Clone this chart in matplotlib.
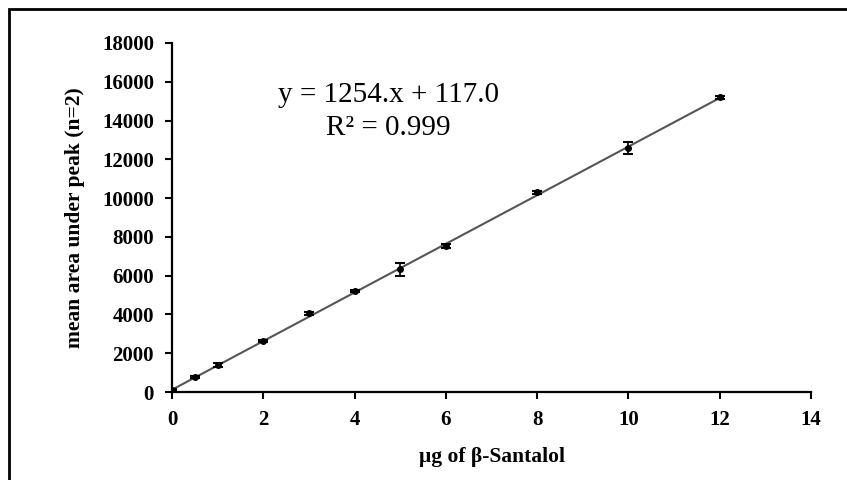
import matplotlib
matplotlib.use("Agg")
import matplotlib.pyplot as plt
from matplotlib.patches import Rectangle

# data
amount_ug = [0, 0.5, 1, 2, 3, 4, 5, 6, 8, 10, 12]
mean_area = [100, 775, 1380, 2630, 4050, 5210, 6330, 7520, 10290, 12570, 15190]
area_err = [60, 60, 110, 60, 90, 60, 330, 110, 90, 300, 80]
slope, intercept = 1254, 117.0
x_ticks = [0, 2, 4, 6, 8, 10, 12, 14]
y_ticks = [0, 2000, 4000, 6000, 8000, 10000, 12000, 14000, 16000, 18000]

SERIF = ["Liberation Serif", "DejaVu Serif"]
plt.rcParams.update({"font.family": SERIF})

fig = plt.figure(figsize=(8.47, 4.8), dpi=100)
ax = fig.add_axes([172 / 847, 1 - 392 / 480, (811 - 172) / 847, (392 - 43) / 480])

# outer frame (only top and left edges fall inside the picture)
fig.patches.append(Rectangle((9 / 847, -0.05), 1.2, 1 - 9 / 480 + 0.05,
                             transform=fig.transFigure, fill=False,
                             edgecolor="black", linewidth=2.0))

fit_x = [min(amount_ug), max(amount_ug)]
fit_y = [slope * v + intercept for v in fit_x]
ax.plot(fit_x, fit_y, color="#555555", linewidth=1.5, zorder=2)
ax.errorbar(amount_ug, mean_area, yerr=area_err, fmt="o", color="black",
            markersize=4, capsize=3.5, elinewidth=1.2, capthick=1.5, zorder=3)

ax.set_xlim(0, 14)
ax.set_ylim(0, 18000)
ax.set_xticks(x_ticks)
ax.set_yticks(y_ticks)
for lab in ax.get_xticklabels() + ax.get_yticklabels():
    lab.set_fontweight("bold")
    lab.set_fontsize(15)
ax.tick_params(direction="out", length=5, width=1.5, pad=8)
ax.spines["top"].set_visible(False)
ax.spines["right"].set_visible(False)
ax.spines["left"].set_linewidth(1.6)
ax.spines["bottom"].set_linewidth(1.6)

ax.set_xlabel("μg of β-Santalol", fontsize=15.5, fontweight="bold", labelpad=12)
ax.set_ylabel("mean area under peak (n=2)", fontsize=15.5, fontweight="bold", labelpad=12)

ax.text(4.75, 15300, f"y = {slope}.x + {intercept:.1f}", fontsize=21, ha="center", va="center")
ax.text(4.75, 13600, "R² = 0.999", fontsize=21, ha="center", va="center")

fig.savefig("out.png", dpi=100)
